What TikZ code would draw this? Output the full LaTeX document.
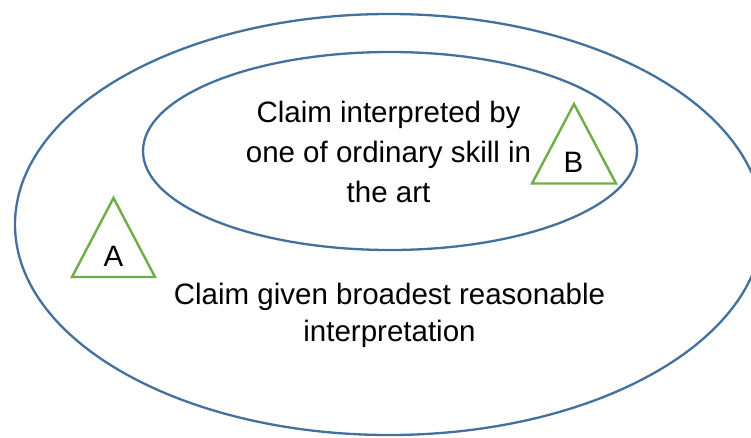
\documentclass[tikz,border=0pt]{standalone}
\usepackage{fontspec}
\setmainfont{Liberation Sans}
\definecolor{ellblue}{HTML}{41719C}
\definecolor{trigreen}{HTML}{70AD47}
\begin{document}
\begin{tikzpicture}[x=1pt,y=-1pt,
  ell/.style={draw=ellblue,line width=2.3pt},
  tri/.style={draw=trigreen,line width=2.4pt,line join=miter},
  lbl/.style={font=\fontsize{29.5}{40}\selectfont,align=center,inner sep=0pt}]
\useasboundingbox (0,0) rectangle (751,437);
\clip (0,0) rectangle (751,437);
\fill[white] (0,0) rectangle (751,437);
\draw[ell] (389,224.5) ellipse [x radius=374, y radius=210.5];
\draw[ell] (390,151) ellipse [x radius=247, y radius=99];
\coordinate (a1) at (113.5,198);
\coordinate (a2) at (155,277);
\coordinate (a3) at (72,277);
\draw[tri] (a1) -- (a2) -- (a3) -- cycle;
\coordinate (b1) at (574,104);
\coordinate (b2) at (616,183.5);
\coordinate (b3) at (532,183.5);
\draw[tri] (b1) -- (b2) -- (b3) -- cycle;
\node[lbl] (la) at (113.5,256.5) {A};
\node[lbl] (lb) at (573.5,162.2) {B};
\node[lbl] (inner) at (388.5,151.5) {Claim interpreted by\\one of ordinary skill in\\the art};
\node[lbl,font=\fontsize{29.5}{37}\selectfont] (outer) at (389.5,315.5) {Claim given broadest reasonable\\interpretation};
\end{tikzpicture}
\end{document}
